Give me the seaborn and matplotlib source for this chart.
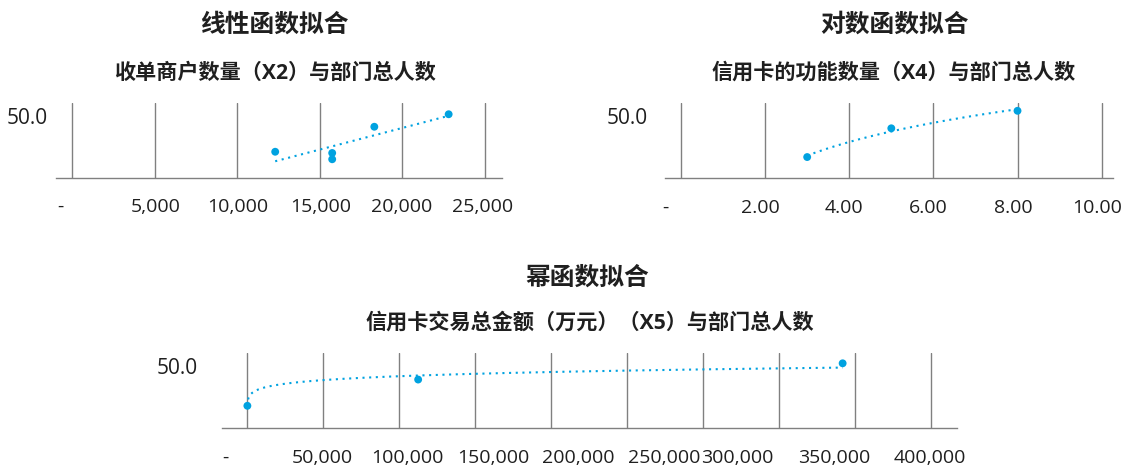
import numpy as np
import matplotlib
matplotlib.use('Agg')
import matplotlib.pyplot as plt
import matplotlib.transforms as mtransforms
import seaborn as sns

# values
# 线性: 收单商户数量 (X2) vs 部门总人数
x2 = [12300, 15750, 15750, 18300, 22800]
y2 = [21, 20, 15, 41, 51]
# 对数: 信用卡的功能数量 (X4) vs 部门总人数
x4 = [3, 5, 8]
y4 = [17, 40, 54]
# 幂: 信用卡交易总金额 (X5) vs 部门总人数
x5 = [50, 112500, 392000]
y5 = [18, 39, 52]

x2_ticks = [0, 5000, 10000, 15000, 20000, 25000]
x2_labels = ['-', '5,000', '10,000', '15,000', '20,000', '25,000']
x4_ticks = [0, 2, 4, 6, 8, 10]
x4_labels = ['-', '2.00', '4.00', '6.00', '8.00', '10.00']
x5_ticks = [0, 50000, 100000, 150000, 200000, 250000, 300000, 350000, 400000, 450000]
x5_labels = ['-', '50,000', '100,000', '150,000', '200,000', '250,000',
             '300,000', '350,000', '400,000', '']

titles = ['线性函数拟合', '对数函数拟合', '幂函数拟合']
subtitles = ['收单商户数量（X2）与部门总人数',
             '信用卡的功能数量（X4）与部门总人数',
             '信用卡交易总金额（万元）（X5）与部门总人数']

BLUE = '#00A2E0'
GRID = '#808080'
TEXT = '#1f1f1f'

sns.set_theme(style='white')
plt.rcParams['font.family'] = ['Open Sans', 'Noto Sans CJK SC', 'DejaVu Sans']


def linear_fit(x, y):
    k, b = np.polyfit(x, y, 1)
    xs = np.linspace(min(x), max(x), 100)
    return xs, k * xs + b


def log_fit(x, y):
    k, b = np.polyfit(np.log(x), y, 1)
    xs = np.linspace(min(x), max(x), 200)
    return xs, k * np.log(xs) + b


def power_fit(x, y):
    k, b = np.polyfit(np.log(x), np.log(y), 1)
    xs = np.unique(np.concatenate([np.geomspace(min(x), max(x), 300),
                                   np.linspace(min(x), max(x), 300)]))
    return xs, np.exp(b) * xs ** k


W, H = 1131, 468
fig = plt.figure(figsize=(W / 100, H / 100), dpi=100)


def px_axes(left, top, right, bottom):
    return fig.add_axes([left / W, 1 - bottom / H, (right - left) / W, (bottom - top) / H])


def draw(ax, x, y, fit, ticks, labels, xlim, ypad, offsets):
    xs, ys = fit(x, y)
    sns.lineplot(x=xs, y=ys, ax=ax, color=BLUE, lw=1.5, linestyle=(0, (1, 2.2)), zorder=3)
    sns.scatterplot(x=x, y=y, ax=ax, color=BLUE, s=32, edgecolor='none', zorder=4)
    ax.set_xlim(xlim)
    ax.set_ylim(0, 60)
    ax.set_xticks(ticks)
    ax.set_xticklabels(labels)
    ax.set_yticks([50])
    ax.set_yticklabels(['50.0'])
    ax.set_xlabel('')
    ax.set_ylabel('')
    ax.tick_params(axis='x', direction='out', length=8.6, width=1.0, color=GRID,
                   pad=6, labelsize=14, labelcolor=TEXT)
    ax.tick_params(axis='y', length=0, pad=ypad, labelsize=15, labelcolor=TEXT)
    ax.grid(axis='x', color=GRID, lw=1.0)
    ax.grid(axis='y', visible=False)
    ax.set_axisbelow(True)
    for s in ['top', 'right', 'left']:
        ax.spines[s].set_visible(False)
    ax.spines['bottom'].set_color(GRID)
    ax.spines['bottom'].set_linewidth(1.0)
    ax.patch.set_alpha(0)
    for lbl, off in zip(ax.get_xticklabels(), offsets):
        lbl.set_transform(lbl.get_transform() +
                          mtransforms.ScaledTranslation(off / 100, 0, fig.dpi_scale_trans))


# axes frames in pixels: left, top(y=60), right, bottom(y=0)
ax1 = px_axes(56, 103, 501.7, 178)
draw(ax1, x2, y2, linear_fit, x2_ticks, x2_labels, (-969, 26011), 5.8,
     [-12, 1, 1, 1, -1, -2])

ax2 = px_axes(665, 103.3, 1113, 178.3)
draw(ax2, x4, y4, log_fit, x4_ticks, x4_labels, (-0.38, 10.27), 12.2,
     [-16, -5, -5, -5, -4, -5])

ax3 = px_axes(221.7, 353.3, 956.7, 428.3)
draw(ax3, x5, y5, power_fit, x5_ticks, x5_labels, (-16857, 467100), 17.3,
     [-22, -1, 8.5, 18, 27, 37, 34, 55.5, 75.5, 0])

# titles
title_pos = [(274, 25), (894, 25), (587.5, 278)]
sub_pos = [(275, 73), (894, 73), (590, 323)]
for t, (cx, cy) in zip(titles, title_pos):
    fig.text(cx / W, 1 - cy / H, t, ha='center', va='center', fontsize=17.8,
             fontweight='bold', color=TEXT)
for t, (cx, cy) in zip(subtitles, sub_pos):
    fig.text(cx / W, 1 - cy / H, t, ha='center', va='center', fontsize=15.2,
             fontweight='bold', color=TEXT)

fig.savefig('out.png', dpi=100)
